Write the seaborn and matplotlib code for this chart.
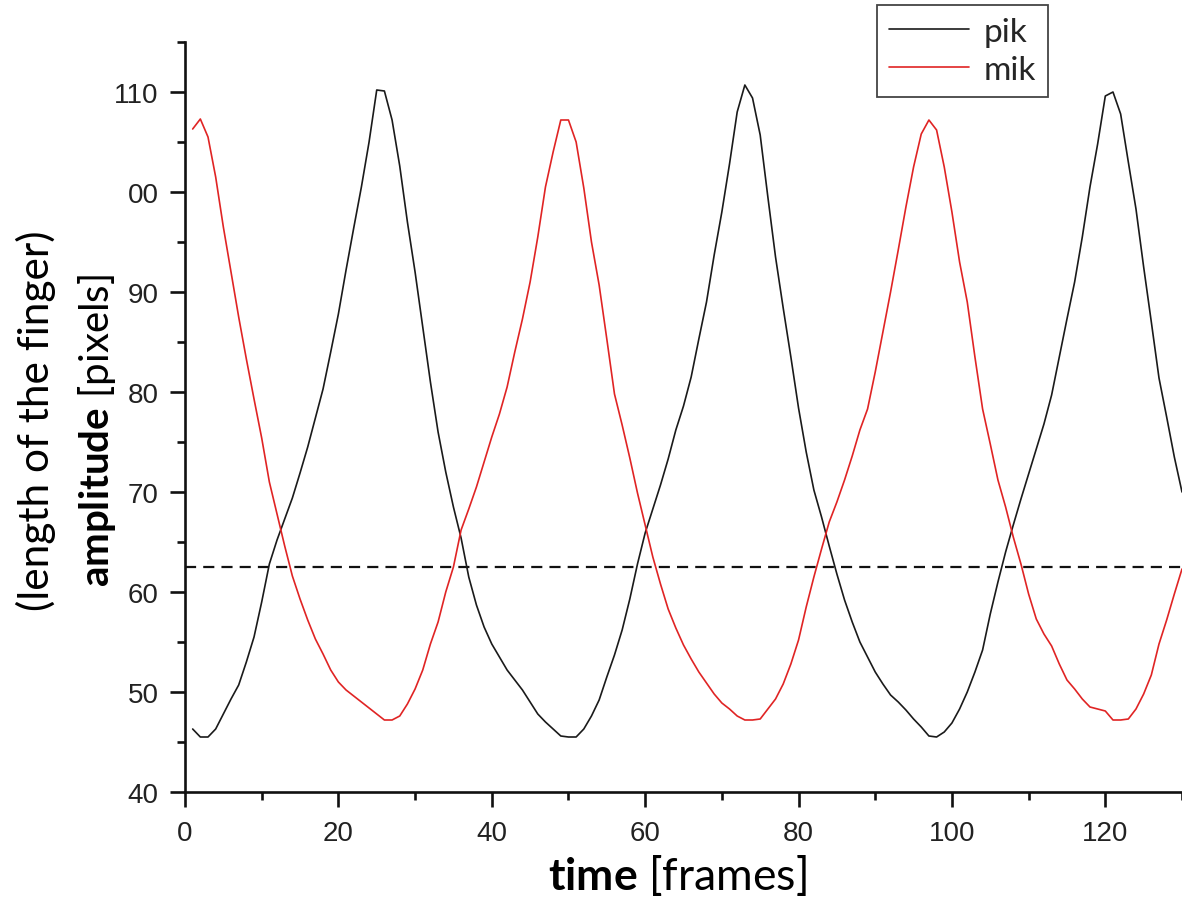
import numpy as np
import pandas as pd
import matplotlib
matplotlib.use("Agg")
import matplotlib.pyplot as plt
import seaborn as sns
from matplotlib.ticker import FixedLocator, FixedFormatter, MultipleLocator

# frame index
frames = list(range(1, 131))

# index finger (pik) length per frame
pik = [
    46.3, 45.5, 45.5, 46.3, 47.8, 49.3, 50.7, 53.0, 55.5, 59.0,
    62.8, 65.2, 67.3, 69.4, 71.9, 74.5, 77.4, 80.3, 84.0, 87.8,
    92.2, 96.4, 100.5, 105.0, 110.2, 110.1, 107.2, 102.6, 97.0, 92.0,
    86.5, 81.0, 76.0, 72.0, 68.5, 65.4, 61.5, 58.7, 56.5, 54.8,
    53.5, 52.2, 51.2, 50.2, 49.0, 47.8, 47.0, 46.3, 45.6, 45.5,
    45.5, 46.3, 47.6, 49.2, 51.5, 53.7, 56.2, 59.3, 62.8, 65.9,
    68.3, 70.7, 73.3, 76.2, 78.6, 81.5, 85.3, 89.0, 93.7, 98.0,
    102.8, 108.0, 110.7, 109.4, 105.7, 99.5, 93.5, 88.4, 83.5, 78.4,
    74.0, 70.2, 67.5, 64.6, 61.8, 59.2, 57.0, 55.0, 53.5, 52.0,
    50.8, 49.7, 49.0, 48.2, 47.3, 46.5, 45.6, 45.5, 46.0, 46.9,
    48.3, 50.0, 52.0, 54.2, 57.8, 61.0, 64.0, 66.7, 69.3, 71.8,
    74.3, 76.8, 79.7, 83.5, 87.3, 91.0, 95.5, 100.5, 104.8, 109.6,
    110.0, 107.8, 103.0, 98.3, 92.5, 87.0, 81.4, 77.5, 73.5, 70.0,
]

# middle finger (mik) length per frame
mik = [
    106.3, 107.3, 105.5, 101.5, 96.5, 92.0, 87.5, 83.3, 79.3, 75.4,
    71.0, 67.8, 64.6, 61.6, 59.3, 57.2, 55.3, 53.8, 52.2, 51.0,
    50.2, 49.6, 49.0, 48.4, 47.8, 47.2, 47.2, 47.6, 48.8, 50.3,
    52.2, 54.8, 57.0, 60.0, 62.5, 66.2, 68.3, 70.5, 73.0, 75.5,
    77.8, 80.5, 84.0, 87.3, 91.0, 95.5, 100.5, 104.0, 107.2, 107.2,
    105.0, 100.4, 95.0, 90.7, 85.3, 79.8, 76.7, 73.4, 69.9, 66.7,
    63.5, 60.8, 58.3, 56.4, 54.7, 53.3, 52.0, 50.9, 49.8, 48.9,
    48.3, 47.6, 47.2, 47.2, 47.3, 48.3, 49.3, 50.8, 52.8, 55.2,
    58.5, 61.5, 64.3, 67.0, 69.0, 71.2, 73.6, 76.2, 78.3, 82.0,
    86.0, 90.0, 94.2, 98.5, 102.5, 105.8, 107.2, 106.2, 102.5, 98.0,
    93.0, 89.0, 83.5, 78.3, 74.8, 71.2, 68.5, 65.5, 62.8, 59.8,
    57.3, 55.8, 54.6, 52.8, 51.2, 50.3, 49.3, 48.5, 48.3, 48.1,
    47.2, 47.2, 47.3, 48.3, 49.8, 51.7, 54.8, 57.2, 59.8, 62.3,
]

series_names = ["pik", "mik"]
threshold = 62.5

y_ticks = [40, 50, 60, 70, 80, 90, 100, 110]
y_tick_labels = ["40", "50", "60", "70", "80", "90", "00", "110"]
x_ticks = [0, 20, 40, 60, 80, 100, 120]

df = pd.DataFrame({
    "frame": frames * 2,
    "amplitude": pik + mik,
    "finger": ["pik"] * len(pik) + ["mik"] * len(mik),
})

sns.set_theme(style="ticks")
plt.rcParams["font.family"] = ["Liberation Sans", "DejaVu Sans"]
plt.rcParams["mathtext.fontset"] = "custom"
plt.rcParams["mathtext.bf"] = "Lato:bold"
plt.rcParams["mathtext.rm"] = "Lato"

W, H = 1182, 904
fig = plt.figure(figsize=(W / 100, H / 100), dpi=100)
ax = fig.add_axes([185 / W, 1 - 793 / H, 1 - 185 / W, (793 - 43) / H])

sns.lineplot(
    data=df, x="frame", y="amplitude", hue="finger",
    hue_order=series_names,
    palette={"pik": "#1a1a1a", "mik": "#e02424"},
    linewidth=1.2, ax=ax, legend=True, sort=False,
)

ax.axhline(threshold, color="#111111", lw=1.6, ls=(0, (5, 3.2)), zorder=1)

ax.set_xlim(0, 130)
ax.set_ylim(40, 115)

for side in ("top", "right"):
    ax.spines[side].set_visible(False)
for side in ("left", "bottom"):
    ax.spines[side].set_linewidth(1.9)
    ax.spines[side].set_color("#111111")

ax.yaxis.set_major_locator(FixedLocator(y_ticks))
ax.yaxis.set_major_formatter(FixedFormatter(y_tick_labels))
ax.yaxis.set_minor_locator(MultipleLocator(5))
ax.xaxis.set_major_locator(FixedLocator(x_ticks))
ax.xaxis.set_minor_locator(MultipleLocator(10))

ax.tick_params(which="major", direction="out", length=11, width=1.9,
               colors="#111111", labelsize=20, labelcolor="#222222")
ax.tick_params(axis="y", which="major", pad=8)
ax.tick_params(axis="x", which="major", pad=9)
ax.tick_params(which="minor", direction="out", length=6, width=1.9,
               colors="#111111")

ax.set_xlabel("")
ax.set_ylabel("")

# axis titles
fig.text(677 / W, 1 - 876 / H, r"$\bf{time}$ [frames]", family="Lato",
         fontsize=32, ha="center", va="center", color="black")
fig.text(36 / W, 1 - 421 / H, "(length of the finger)", family="Lato",
         fontsize=30.5, rotation=90, ha="center", va="center", color="black")
fig.text(97 / W, 1 - 431 / H, r"$\bf{amplitude}$ [pixels]", family="Lato",
         fontsize=29, rotation=90, ha="center", va="center", color="black")

handles, labels = ax.get_legend_handles_labels()
ax.legend_.remove()
leg = fig.legend(
    handles, labels, loc="upper left",
    bbox_to_anchor=(877 / W, 1 - 6 / H), bbox_transform=fig.transFigure,
    borderaxespad=0, frameon=True, fancybox=False, framealpha=1,
    edgecolor="#444444", prop={"family": "Lato", "size": 24},
    handlelength=2.4, handletextpad=0.45, borderpad=0.35, labelspacing=0.25,
)
leg.get_frame().set_linewidth(1.3)
for line in leg.get_lines():
    line.set_linewidth(1.2)

fig.savefig("out.png", dpi=100, facecolor="white")
